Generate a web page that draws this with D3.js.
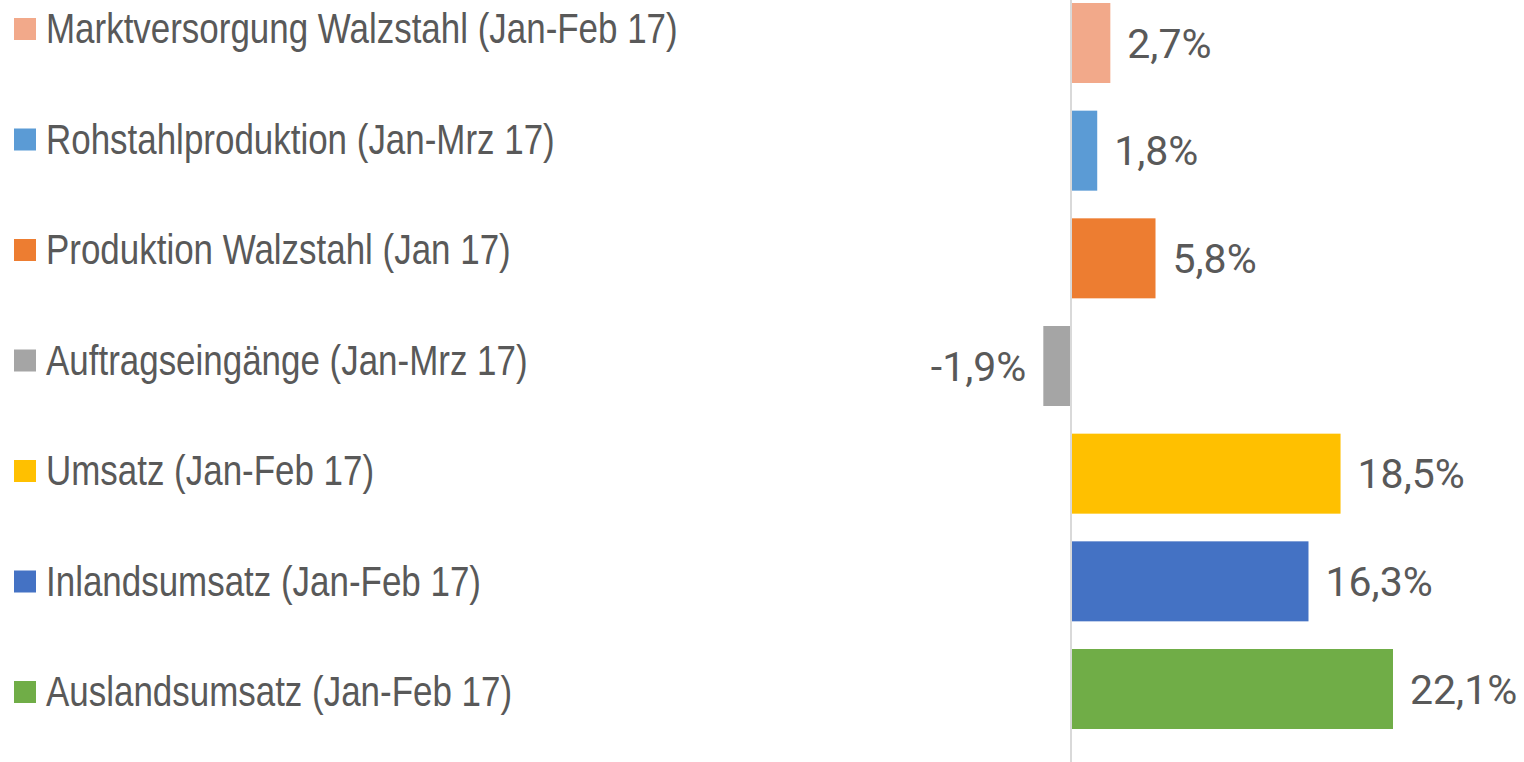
<!DOCTYPE html>
<html>
<head>
<meta charset="utf-8">
<script src="https://cdn.jsdelivr.net/npm/d3@7"></script>
<style>
  body { margin: 0; background: #fff; }
  svg { display: block; }
</style>
</head>
<body>
<div id="chart"></div>
<script>
var categories = [
  'Marktversorgung Walzstahl (Jan-Feb 17)',
  'Rohstahlproduktion (Jan-Mrz 17)',
  'Produktion Walzstahl (Jan 17)',
  'Auftragseingänge (Jan-Mrz 17)',
  'Umsatz (Jan-Feb 17)',
  'Inlandsumsatz (Jan-Feb 17)',
  'Auslandsumsatz (Jan-Feb 17)'
];
var values = [2.7, 1.8, 5.8, -1.9, 18.5, 16.3, 22.1];
var colors = ['#F2A98A', '#5B9BD5', '#ED7D31', '#A5A5A5', '#FFC000', '#4472C4', '#70AD47'];

var width = 1524, height = 762;

var svg = d3.select('#chart')
    .append('svg')
    .attr('width', width)
    .attr('height', height);

// x: 22.1% -> 322px to the right of zero line at 1071
var x = d3.scaleLinear()
    .domain([0, 22.1])
    .range([1071, 1393]);

var y = d3.scaleBand()
    .domain(categories)
    .range([-10.84, 742.84])
    .paddingInner(0.257)
    .paddingOuter(0.1285);

var fmt = function (v) { return d3.format('.1f')(v).replace('.', ',').replace('−', '-') + '%'; };

svg.selectAll('.bar')
    .data(categories)
    .enter()
    .append('rect')
    .attr('class', 'bar')
    .attr('x', function (d, i) { return Math.min(x(0), x(values[i])); })
    .attr('y', function (d) { return y(d); })
    .attr('width', function (d, i) { return Math.abs(x(values[i]) - x(0)); })
    .attr('height', y.bandwidth())
    .style('fill', function (d, i) { return colors[i]; });

// zero line
svg.append('line')
    .attr('x1', x(0)).attr('x2', x(0))
    .attr('y1', 0).attr('y2', height)
    .style('stroke', '#d9d9d9')
    .style('stroke-width', 2);

// value labels
svg.selectAll('.value')
    .data(categories)
    .enter()
    .append('text')
    .attr('class', 'value')
    .attr('x', function (d, i) { return values[i] >= 0 ? x(values[i]) + 17 : x(values[i]) - 17; })
    .attr('y', function (d) { return y(d) + y.bandwidth() / 2; })
    .attr('dy', '0.36em')
    .attr('text-anchor', function (d, i) { return values[i] >= 0 ? 'start' : 'end'; })
    .style('font-family', 'Roboto, sans-serif')
    .style('font-size', '41px')
    .style('fill', '#595959')
    .text(function (d, i) { return fmt(values[i]); });

// legend
var legend = svg.selectAll('.legend')
    .data(categories)
    .enter()
    .append('g')
    .attr('class', 'legend')
    .attr('transform', function (d, i) { return 'translate(0,' + (43 + i * 110.5) + ')'; });

legend.append('rect')
    .attr('x', 14)
    .attr('y', -25)
    .attr('width', 22)
    .attr('height', 22)
    .style('fill', function (d, i) { return colors[i]; });

// narrow look: no condensed font installed, so squeeze horizontally
legend.append('text')
    .attr('transform', 'translate(46,0) scale(0.832,1)')
    .style('font-family', '"Liberation Sans Narrow", "Arial Narrow", "Liberation Sans", sans-serif')
    .style('font-size', '42px')
    .style('fill', '#595959')
    .text(function (d) { return d; });
</script>
</body>
</html>
